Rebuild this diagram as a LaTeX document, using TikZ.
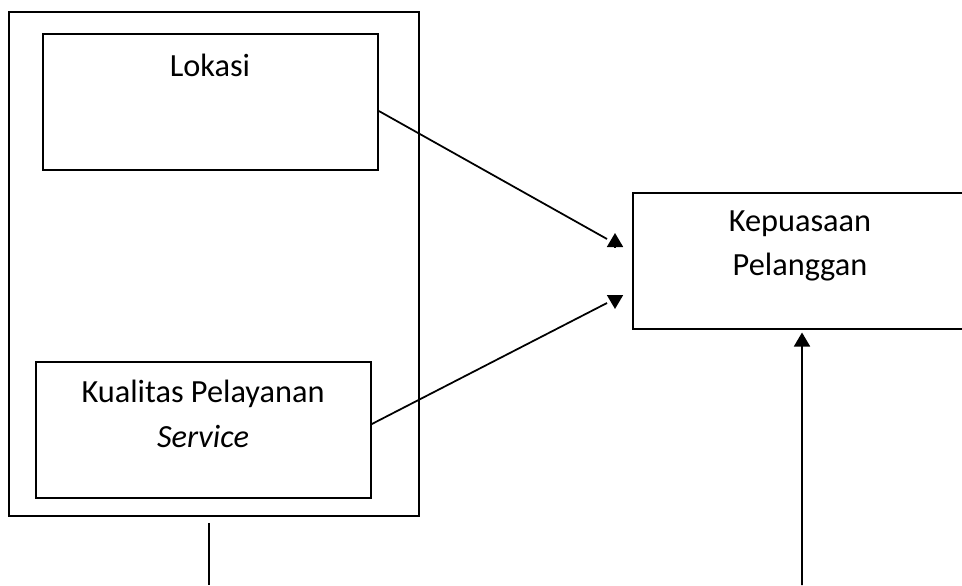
\documentclass[tikz,border=0pt]{standalone}
\usepackage{fontspec}
\setmainfont{Carlito}
\usetikzlibrary{arrows.meta}

\begin{document}
\begin{tikzpicture}[x=0.02cm, y=-0.02cm, font=\fontsize{18.4}{25.2}\selectfont,
      box/.style={draw, line width=1pt, minimum height=2.72cm, inner sep=0pt},
      txt/.style={align=center, inner sep=0pt},
      link/.style={line width=1pt},
      head/.style={line width=1pt, -{Triangle[length=0.28cm, width=0.32cm]}}]
    \useasboundingbox (0,0) rectangle (962,585);
    \node[box, minimum width=8.2cm, minimum height=10.08cm] (frame) at (214,264) {};
    \node[box, minimum width=6.7cm] (lok) at (210.5,102) {};
    \node[box, minimum width=6.7cm] (kual) at (203.5,430) {};
    \node[box, minimum width=6.68cm] (kep) at (800,261) {};
    \node[txt] (loktxt) at (210,65) {Lokasi};
    \node[txt] (kualtxt) at (203,414) {Kualitas Pelayanan\\\textit{Service}};
    \node[txt] (keptxt) at (800,246) {Kepuasaan\\Pelanggan};
    \coordinate (endA) at (607,239);
    \coordinate (endB) at (607,303);
    \coordinate (tipA) at (615,233);
    \coordinate (tipB) at (615,309);
    \coordinate (baseL) at (209,585);
    \coordinate (baseR) at (802,585);
    \draw[link] (lok.east) ++(0,9) -- (endA);
    \draw[head] (tipA) ++(0,14) -- (tipA);
    \draw[link] (kual.east) ++(0,-6) -- (endB);
    \draw[head] (tipB) ++(0,-14) -- (tipB);
    \draw[link] (frame.south) ++(-5,6) -- (baseL);
    \draw[head] (baseR) -- ([xshift=0.04cm, yshift=-1.5pt]kep.south);
  \end{tikzpicture}
\end{document}
